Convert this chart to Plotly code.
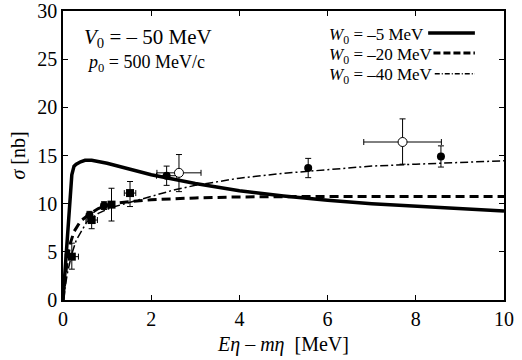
import plotly.graph_objects as go

# ---- data ----
x_w5 = [0, 0.05, 0.1, 0.15, 0.2, 0.25, 0.3, 0.4, 0.5, 0.65, 0.8, 1.0, 1.5, 2, 3, 4, 5, 5.5, 6, 7, 8, 9, 10]
y_w5 = [0, 3.2, 6.5, 9.8, 13.0, 13.9, 14.1, 14.35, 14.5, 14.5, 14.4, 14.2, 13.6, 13.0, 12.1, 11.35, 10.8, 10.55, 10.35, 10.0, 9.75, 9.5, 9.25]

x_w20 = [0, 0.05, 0.1, 0.16, 0.25, 0.4, 0.57, 0.8, 1.1, 1.5, 2, 2.5, 3, 4, 5, 6, 8, 10]
y_w20 = [0, 2.5, 4.3, 5.8, 7.1, 8.2, 8.8, 9.5, 10.0, 10.2, 10.4, 10.5, 10.6, 10.7, 10.75, 10.75, 10.75, 10.75]

x_w40 = [0, 0.05, 0.1, 0.2, 0.3, 0.54, 0.8, 1.1, 1.5, 2, 2.5, 3, 4, 5, 6, 7, 8, 9, 10]
y_w40 = [0, 1.5, 2.8, 4.8, 6.2, 8.1, 9.0, 9.6, 10.1, 10.8, 11.4, 11.9, 12.65, 13.15, 13.55, 13.9, 14.1, 14.3, 14.45]

# filled squares
sq_x = [0.2, 0.65, 1.1, 1.52]
sq_y = [4.5, 8.3, 9.9, 11.1]
sq_ex = [0.15, 0.13, 0.0, 0.13]
sq_ey_plus = [1.4, 0.8, 1.7, 1.2]
sq_ey_minus = [1.3, 0.9, 1.7, 1.4]

# filled circles
fc_x = [0.6, 0.93, 2.35, 5.56, 8.57]
fc_y = [8.8, 9.8, 12.9, 13.7, 14.9]
fc_ex = [0.0, 0.0, 0.23, 0.0, 0.0]
fc_ey = [0.4, 0.4, 1.0, 1.0, 1.1]

# open circles
oc_x = [2.63, 7.70]
oc_y = [13.2, 16.4]
oc_ex = [0.5, 0.88]
oc_ey_plus = [1.9, 2.4]
oc_ey_minus = [1.95, 2.3]

x_ticks = [0, 2, 4, 6, 8, 10]
y_ticks = [0, 5, 10, 15, 20, 25, 30]

FONT = "Liberation Serif"

fig = go.Figure()

fig.add_trace(go.Scatter(x=x_w5, y=y_w5, mode="lines", line=dict(color="black", width=3.5), showlegend=False))
fig.add_trace(go.Scatter(x=x_w20, y=y_w20, mode="lines", line=dict(color="black", width=3, dash="9px,5px"), showlegend=False))
fig.add_trace(go.Scatter(x=x_w40, y=y_w40, mode="lines", line=dict(color="black", width=1.5, dash="8px,3px,2px,3px"), showlegend=False))

fig.add_trace(go.Scatter(
    x=sq_x, y=sq_y, mode="markers",
    marker=dict(symbol="square", size=8, color="black"),
    error_x=dict(type="data", array=sq_ex, color="black", thickness=1, width=3),
    error_y=dict(type="data", array=sq_ey_plus, arrayminus=sq_ey_minus, color="black", thickness=1, width=3),
    showlegend=False))

fig.add_trace(go.Scatter(
    x=fc_x, y=fc_y, mode="markers",
    marker=dict(symbol="circle", size=8, color="black"),
    error_x=dict(type="data", array=fc_ex, color="black", thickness=1, width=3),
    error_y=dict(type="data", array=fc_ey, color="black", thickness=1, width=3),
    showlegend=False))

fig.add_trace(go.Scatter(
    x=oc_x, y=oc_y, mode="markers",
    marker=dict(symbol="circle", size=9, color="white", line=dict(color="black", width=1)),
    error_x=dict(type="data", array=oc_ex, color="black", thickness=1, width=3),
    error_y=dict(type="data", array=oc_ey_plus, arrayminus=oc_ey_minus, color="black", thickness=1, width=3),
    showlegend=False))

# annotations
fig.add_annotation(x=0.043, y=0.905, xref="paper", yref="paper", xanchor="left", yanchor="middle",
                   text="<i>V</i><sub>0</sub> = – 50 MeV", showarrow=False,
                   font=dict(family=FONT, size=21, color="black"))
fig.add_annotation(x=0.050, y=0.818, xref="paper", yref="paper", xanchor="left", yanchor="middle",
                   text="<i>p</i><sub>0</sub> = 500 MeV/c", showarrow=False,
                   font=dict(family=FONT, size=18, color="black"))

leg_labels = ["<i>W</i><sub>0</sub> = –5 MeV", "<i>W</i><sub>0</sub> = –20 MeV", "<i>W</i><sub>0</sub> = –40 MeV"]
leg_text_y = [0.912, 0.844, 0.776]
leg_line_y = [0.924, 0.855, 0.783]
leg_line_x0 = [0.828, 0.840, 0.843]
leg_styles = [dict(width=3.5, dash="solid"), dict(width=3, dash="7px,3px"), dict(width=1.5, dash="5px,2px,1px,2px")]
for lab, ty, ly, lx0, st in zip(leg_labels, leg_text_y, leg_line_y, leg_line_x0, leg_styles):
    fig.add_annotation(x=0.599, y=ty, xref="paper", yref="paper", xanchor="left", yanchor="middle",
                       text=lab, showarrow=False, font=dict(family=FONT, size=17, color="black"))
    fig.add_shape(type="line", xref="paper", yref="paper", x0=lx0, x1=0.934, y0=ly, y1=ly,
                  line=dict(color="black", width=st["width"], dash=st["dash"]))

axis_common = dict(showline=True, linecolor="black", linewidth=1.5, mirror="ticks", ticks="inside",
                   ticklen=5, tickwidth=1, tickcolor="black", showgrid=False, zeroline=False,
                   tickfont=dict(family=FONT, size=20, color="black"), ticklabeloverflow="allow")

fig.update_xaxes(range=[0, 10], tickvals=x_ticks, ticktext=[str(v) for v in x_ticks],
                 title=dict(text="<i>E</i><i>η</i> – <i>m</i><i>η</i>  [MeV]", font=dict(family=FONT, size=20, color="black"), standoff=8),
                 automargin=False, **axis_common)
fig.update_yaxes(range=[0, 30], tickvals=y_ticks, ticktext=[str(v) for v in y_ticks],
                 title=dict(text="<i>σ</i> [nb]", font=dict(family=FONT, size=20, color="black"), standoff=6),
                 automargin=False, **axis_common)

fig.update_layout(width=522, height=360, margin=dict(l=63, r=18, t=11, b=60),
                  plot_bgcolor="white", paper_bgcolor="white", showlegend=False)

# remove the default 8px page margin so the figure sits at the window's corner
fig.write_html("out.html", config={"displayModeBar": False},
               post_script="document.body.style.margin='0';")
